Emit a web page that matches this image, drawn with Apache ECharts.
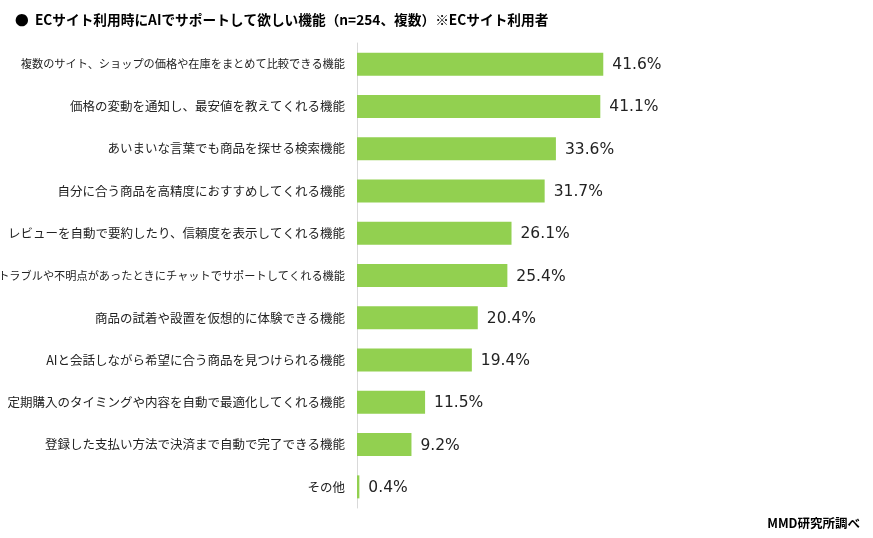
<!DOCTYPE html>
<html>
<head>
<meta charset="utf-8">
<script src="https://cdn.jsdelivr.net/npm/echarts@6/dist/echarts.min.js"></script>
<style>
html,body{margin:0;padding:0;background:#fff;}
#main{width:873px;height:538px;}
</style>
</head>
<body>
<div id="main"></div>
<script>
const categories = [
  "複数のサイト、ショップの価格や在庫をまとめて比較できる機能",
  "価格の変動を通知し、最安値を教えてくれる機能",
  "あいまいな言葉でも商品を探せる検索機能",
  "自分に合う商品を高精度におすすめしてくれる機能",
  "レビューを自動で要約したり、信頼度を表示してくれる機能",
  "トラブルや不明点があったときにチャットでサポートしてくれる機能",
  "商品の試着や設置を仮想的に体験できる機能",
  "AIと会話しながら希望に合う商品を見つけられる機能",
  "定期購入のタイミングや内容を自動で最適化してくれる機能",
  "登録した支払い方法で決済まで自動で完了できる機能",
  "その他"
];
const values = [41.6, 41.1, 33.6, 31.7, 26.1, 25.4, 20.4, 19.4, 11.5, 9.2, 0.4];
const titleText = "●  ECサイト利用時にAIでサポートして欲しい機能（n=254、複数）※ECサイト利用者";
const sourceText = "MMD研究所調べ";

const chart = echarts.init(document.getElementById('main'));
const jp = '"Noto Sans CJK JP", "Noto Sans", sans-serif';
chart.setOption({
  animation: false,
  backgroundColor: '#ffffff',
  title: [
    {text: titleText, left: 10, top: 8,
     textStyle: {fontFamily: jp, fontSize: 13.7, fontWeight: 'bold', color: '#000'}},
    {text: sourceText, right: 8, top: 512,
     textStyle: {fontFamily: jp, fontSize: 12.5, fontWeight: 'bold', color: '#000'}}
  ],
  grid: {left: 357, top: 43, bottom: 30, right: 220, containLabel: false, outerBoundsMode: 'none'},
  xAxis: {
    type: 'value', min: 0, max: 50,
    axisLine: {show: false}, axisTick: {show: false},
    axisLabel: {show: false}, splitLine: {show: false}
  },
  yAxis: {
    type: 'category', inverse: true, data: categories,
    axisLine: {show: true, lineStyle: {color: '#d9d9d9', width: 1}},
    axisTick: {show: false},
    axisLabel: {
      margin: 12, fontFamily: jp, fontSize: 12.5, color: '#222',
      formatter: function (v) { return v.length > 28 ? '{s|' + v + '}' : v; },
      rich: {s: {fontFamily: jp, fontSize: 11.2, color: '#222'}}
    }
  },
  series: [{
    type: 'bar', data: values, barWidth: 23,
    itemStyle: {color: '#92d050'},
    label: {
      show: true, position: 'right', distance: 9, offset: [0, 1],
      formatter: function (p) { return p.value.toFixed(1) + '%'; },
      fontFamily: '"DejaVu Sans", Verdana, sans-serif', fontSize: 15.5, color: '#222'
    }
  }]
});
</script>
</body>
</html>
